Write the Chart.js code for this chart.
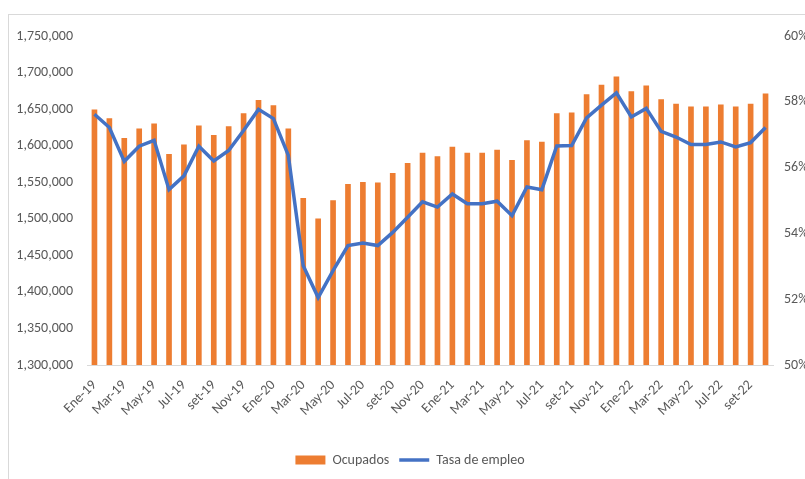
<!DOCTYPE html>
<html>
<head>
<meta charset="utf-8">
<script src="https://cdn.jsdelivr.net/npm/chart.js@4.4.1/dist/chart.umd.min.js"></script>
<style>
  html, body { margin: 0; padding: 0; background: #fff; overflow: hidden; }
  .frame { position: absolute; left: 8px; top: 14px; width: 820px; height: 480px;
           border-top: 1px solid #d9d9d9; border-left: 1px solid #d9d9d9; }
  .wrap { position: absolute; left: 0; top: 0; width: 820px; height: 479px; }
</style>
</head>
<body>
<div class="frame"></div>
<div class="wrap"><canvas id="empleoChart" width="820" height="479"></canvas></div>
<script>
const years = ['19', '20', '21', '22'];
const months = ['Ene', 'Feb', 'Mar', 'Abr', 'May', 'Jun', 'Jul', 'Ago', 'set', 'Oct', 'Nov', 'Dic'];
// Ene-19 .. Oct-22
const labels = [];
years.forEach(y => months.forEach(m => labels.push(m + '-' + y)));
labels.length = 46;

const ocupados = [
  1649000, 1637000, 1610000, 1623000, 1630000, 1588000, 1601000, 1627000, 1614000, 1626000, 1644000, 1662000,
  1655000, 1623000, 1528000, 1500000, 1525000, 1547000, 1550000, 1549000, 1562000, 1576000, 1590000, 1585000,
  1598000, 1590000, 1590000, 1594000, 1580000, 1607000, 1605000, 1644000, 1645000, 1670000, 1683000, 1694000,
  1674000, 1682000, 1663000, 1657000, 1653000, 1653000, 1656000, 1653000, 1657000, 1671000
];

const tasaEmpleo = [
  57.62, 57.22, 56.19, 56.65, 56.83, 55.33, 55.75, 56.65, 56.20, 56.52, 57.13, 57.77,
  57.49, 56.37, 53.02, 52.05, 52.87, 53.63, 53.71, 53.63, 54.03, 54.49, 54.96, 54.80,
  55.20, 54.90, 54.90, 54.98, 54.54, 55.41, 55.33, 56.66, 56.67, 57.51, 57.90, 58.27,
  57.54, 57.80, 57.10, 56.93, 56.70, 56.70, 56.78, 56.63, 56.76, 57.22
];

const textColor = '#595959';
const font = { family: '"Liberation Sans Narrow", Carlito, "Liberation Sans", sans-serif', size: 14 };

const ctx = document.getElementById('empleoChart').getContext('2d');
const empleoChart = new Chart(ctx, {
  type: 'bar',
  data: {
    labels: labels,
    datasets: [
      {
        label: 'Ocupados',
        data: ocupados,
        backgroundColor: '#ED7D31',
        barThickness: 5,
        yAxisID: 'y',
        order: 1
      },
      {
        type: 'line',
        label: 'Tasa de empleo',
        data: tasaEmpleo,
        borderColor: '#4472C4',
        backgroundColor: '#4472C4',
        borderWidth: 3.5,
        pointRadius: 0,
        tension: 0,
        yAxisID: 'y1',
        order: 0
      }
    ]
  },
  options: {
    responsive: false,
    animation: false,
    layout: { padding: { top: 36, bottom: 2 } },
    scales: {
      x: {
        grid: { display: false },
        border: { display: true, color: '#d9d9d9', width: 1 },
        ticks: {
          color: textColor,
          font: font,
          autoSkip: false,
          maxRotation: 45,
          minRotation: 45,
          padding: 4,
          callback: function (value, index) {
            return index % 2 === 0 ? this.getLabelForValue(value) : '';
          }
        },
        afterFit: s => { s.height = 78; }
      },
      y: {
        position: 'left',
        min: 1300000,
        max: 1750000,
        grid: { display: false, tickLength: 0 },
        border: { display: false },
        ticks: {
          stepSize: 50000,
          color: textColor,
          font: font,
          padding: 14,
          callback: v => v.toLocaleString('en-US')
        },
        afterFit: s => { s.width = 87; }
      },
      y1: {
        position: 'right',
        min: 50,
        max: 60,
        grid: { display: false, tickLength: 0 },
        border: { display: false },
        ticks: {
          stepSize: 2,
          color: textColor,
          font: font,
          padding: 11,
          callback: v => v + '%'
        },
        afterFit: s => { s.width = 47; }
      }
    },
    plugins: {
      tooltip: { enabled: false },
      legend: {
        position: 'bottom',
        labels: {
          color: textColor,
          font: font,
          usePointStyle: true,
          pointStyleWidth: 30,
          boxHeight: 9,
          padding: 10,
          sort: (a, b) => a.datasetIndex - b.datasetIndex,
          generateLabels: chart => {
            const items = Chart.defaults.plugins.legend.labels.generateLabels(chart);
            items.forEach(it => {
              if (it.datasetIndex === 0) { it.pointStyle = 'rect'; it.lineWidth = 0; }
              else { it.pointStyle = 'line'; it.lineWidth = 3.5; }
            });
            return items;
          }
        }
      }
    }
  }
});
</script>
</body>
</html>
